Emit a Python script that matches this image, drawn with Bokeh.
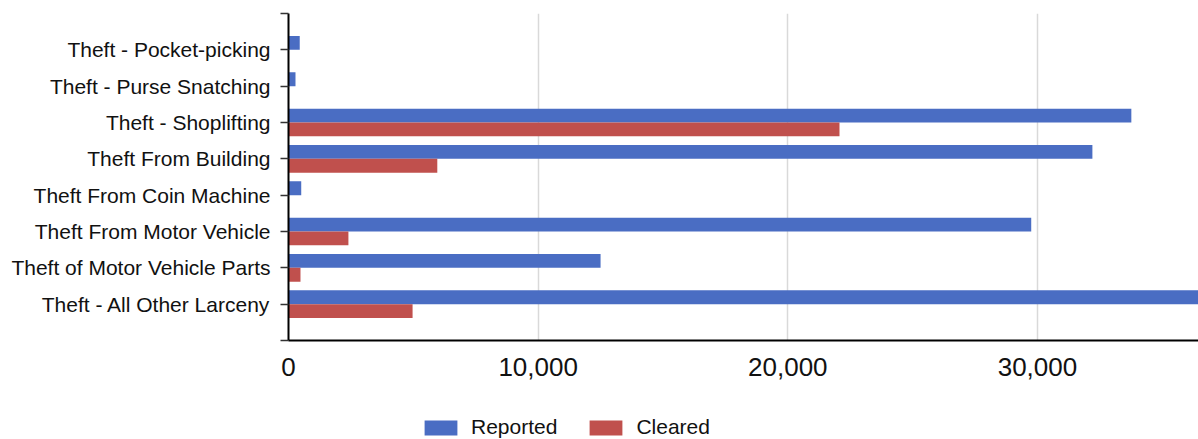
from bokeh.plotting import figure
from bokeh.layouts import column
from bokeh.models import (Range1d, FixedTicker, NumeralTickFormatter, Legend, LegendItem,
                          ColumnDataSource)
from bokeh.embed import file_html
from bokeh.resources import INLINE

categories = ["Theft - Pocket-picking", "Theft - Purse Snatching", "Theft - Shoplifting",
              "Theft From Building", "Theft From Coin Machine", "Theft From Motor Vehicle",
              "Theft of Motor Vehicle Parts", "Theft - All Other Larceny"]
reported = [450, 280, 33760, 32200, 510, 29750, 12500, 37500]
cleared = [0, 0, 22070, 5960, 0, 2400, 480, 4970]
x_ticks = [0, 10000, 20000, 30000]
series_names = ["Reported", "Cleared"]

BLUE = "#4A6DC3"
RED = "#C0504D"
FONT = "Liberation Sans"

pos = list(range(1, len(categories) + 1))
src_r = ColumnDataSource(dict(y=[p - 0.19 for p in pos], v=reported))
src_c = ColumnDataSource(dict(y=[p + 0.19 for p in pos], v=cleared))

p = figure(width=1198, height=400, output_backend="svg", toolbar_location=None,
           x_range=Range1d(0, 36450), y_range=Range1d(len(categories) + 1, 0),
           min_border_left=288, min_border_right=0, min_border_top=13, min_border_bottom=60)
p.outline_line_color = None

p.hbar(y="y", right="v", left=0, height=0.38, source=src_r, color=BLUE, line_color=None)
p.hbar(y="y", right="v", left=0, height=0.38, source=src_c, color=RED, line_color=None)

# axes
p.yaxis.ticker = FixedTicker(ticks=list(range(0, len(categories) + 2)))
ov = {i + 1: c for i, c in enumerate(categories)}
ov[0] = ""
ov[len(categories) + 1] = ""
p.yaxis.major_label_overrides = ov
p.yaxis.major_label_text_font = FONT
p.yaxis.major_label_text_font_size = "21px"
p.yaxis.major_label_text_color = "#111111"
p.yaxis.major_label_standoff = 10
p.yaxis.major_tick_out = 8
p.yaxis.major_tick_in = 0
p.yaxis.minor_tick_line_color = None
p.yaxis.axis_line_color = "#000000"
p.yaxis.axis_line_width = 2
p.yaxis.major_tick_line_color = "#333333"
p.yaxis.major_tick_line_width = 1.5

p.xaxis.ticker = FixedTicker(ticks=x_ticks)
p.xaxis.formatter = NumeralTickFormatter(format="0,0")
p.xaxis.major_label_text_font = FONT
p.xaxis.major_label_text_font_size = "26px"
p.xaxis.major_label_text_color = "#111111"
p.xaxis.major_label_standoff = 12
p.xaxis.major_tick_out = 5
p.xaxis.major_tick_in = 0
p.xaxis.major_tick_line_color = None
p.xaxis.minor_tick_line_color = None
p.xaxis.axis_line_color = "#000000"
p.xaxis.axis_line_width = 2

p.ygrid.grid_line_color = None
p.xgrid.ticker = FixedTicker(ticks=x_ticks)
p.xgrid.grid_line_color = "#D9D9D9"
p.xgrid.grid_line_width = 1.5

# legend strip below the chart (its frame is aligned with the chart's frame)
q = figure(width=1198, height=39, output_backend="svg", toolbar_location=None,
           x_range=Range1d(0, 1), y_range=Range1d(0, 1),
           x_axis_location=None, y_axis_location=None,
           min_border_left=288, min_border_right=0, min_border_top=0, min_border_bottom=0)
q.outline_line_color = None
q.grid.grid_line_color = None
lr1 = q.hbar(y=[-5], right=[1], left=0, height=0.5, color=BLUE, line_color=None)
lr2 = q.hbar(y=[-5], right=[1], left=0, height=0.5, color=RED, line_color=None)
legend = Legend(items=[LegendItem(label=series_names[0], renderers=[lr1]),
                       LegendItem(label=series_names[1], renderers=[lr2])],
                orientation="horizontal", location=(132, 0),
                label_text_font=FONT, label_text_font_size="21px", label_text_color="#111111",
                glyph_width=41, glyph_height=19, label_standoff=10, spacing=28,
                padding=0, margin=0, border_line_color=None, background_fill_alpha=0)
q.add_layout(legend, "center")

layout = column(p, q, spacing=0)
open("out.html", "w").write(file_html(layout, INLINE))
